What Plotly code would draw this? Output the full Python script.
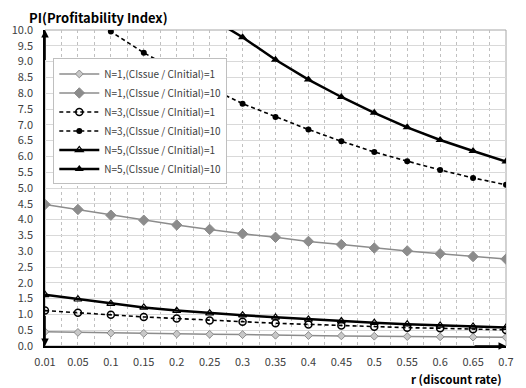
import plotly.graph_objects as go

x_labels = ["0.01", "0.05", "0.1", "0.15", "0.2", "0.25", "0.3", "0.35",
            "0.4", "0.45", "0.5", "0.55", "0.6", "0.65", "0.7"]

n1_r1 = [0.45, 0.43, 0.41, 0.40, 0.38, 0.37, 0.36, 0.34, 0.33, 0.32, 0.31, 0.30, 0.29, 0.28, 0.275]
n1_r10 = [4.48, 4.32, 4.14, 3.98, 3.83, 3.69, 3.55, 3.44, 3.31, 3.21, 3.10, 3.01, 2.92, 2.83, 2.75]
n3_r1 = [1.12, 1.05, 0.99, 0.92, 0.87, 0.81, 0.77, 0.72, 0.68, 0.65, 0.61, 0.58, 0.56, 0.53, 0.51]
n3_r10 = [11.3, 10.6, 9.95, 9.28, 8.70, 8.17, 7.67, 7.25, 6.85, 6.48, 6.14, 5.85, 5.57, 5.32, 5.10]
n5_r1 = [1.62, 1.48, 1.34, 1.22, 1.12, 1.04, 0.977, 0.906, 0.843, 0.788, 0.738, 0.692, 0.652, 0.617, 0.584]
n5_r10 = [16.2, 14.8, 13.4, 12.2, 11.2, 10.4, 9.77, 9.06, 8.43, 7.88, 7.38, 6.92, 6.52, 6.17, 5.84]

names = ["N=1,(CIssue / CInitial)=1", "N=1,(CIssue / CInitial)=10",
         "N=3,(CIssue / CInitial)=1", "N=3,(CIssue / CInitial)=10",
         "N=5,(CIssue / CInitial)=1", "N=5,(CIssue / CInitial)=10"]

xi = list(range(len(x_labels)))
FONT = "Noto Sans CJK KR"
GRAY = "#8c8c8c"
DASH = "4px,3px"

fig = go.Figure()
styles = [
    (n1_r1, dict(color=GRAY, width=1.5), dict(symbol="diamond", size=6, color="#c8c8c8", line=dict(color=GRAY, width=1))),
    (n1_r10, dict(color=GRAY, width=1.5), dict(symbol="diamond", size=8, color=GRAY, line=dict(color=GRAY, width=1))),
    (n3_r1, dict(color="black", width=1.6, dash=DASH), dict(symbol="circle-open", size=7, color="black", line=dict(color="black", width=1.5))),
    (n3_r10, dict(color="black", width=1.6, dash=DASH), dict(symbol="circle", size=6, color="black")),
    (n5_r1, dict(color="black", width=2.5), dict(symbol="triangle-up-open", size=7, color="black", line=dict(color="black", width=1.2))),
    (n5_r10, dict(color="black", width=2.5), dict(symbol="triangle-up", size=8, color="black")),
]
for (vals, ln, mk), nm in zip(styles, names):
    fig.add_trace(go.Scatter(x=xi, y=vals, mode="lines+markers", name=nm,
                             line=ln, marker=mk, cliponaxis=True))

fig.update_layout(
    width=526, height=388,
    margin=dict(l=41, r=15, t=30, b=42),
    paper_bgcolor="white", plot_bgcolor="white",
    font=dict(family=FONT, size=11, color="#404040"),
    showlegend=True,
    legend=dict(x=0.018, y=0.91, xanchor="left", yanchor="top",
                bgcolor="white", bordercolor="#bfbfbf", borderwidth=1,
                font=dict(family=FONT, size=10, color="#404040"),
                itemwidth=40),
    xaxis=dict(range=[0, 14], tickmode="array", tickvals=xi, ticktext=x_labels,
               showgrid=True, gridcolor="#c0c0c0", griddash="dot", gridwidth=1,
               minor=dict(dtick=0.5, tick0=0, showgrid=True, gridcolor="#c0c0c0", griddash="dot", gridwidth=1),
               showline=True, linecolor="black", linewidth=1.5, ticks="",
               ticklabelstandoff=5,
               zeroline=False, tickfont=dict(size=11, color="#404040")),
    yaxis=dict(range=[0, 10], dtick=0.5, tickformat=".1f",
               showgrid=True, gridcolor="#d9d9d9", gridwidth=1,
               showline=True, linecolor="black", linewidth=1.5, ticks="",
               ticklabelstandoff=8,
               zeroline=False, tickfont=dict(size=11, color="#404040")),
)

fig.add_shape(type="rect", xref="paper", yref="paper", x0=0, y0=0, x1=1, y1=1,
              line=dict(color="#a6a6a6", width=1), layer="below")

# axis arrows
fig.add_annotation(x=0, y=10, ax=0, ay=9.0, xref="x", yref="y", axref="x", ayref="y",
                   showarrow=True, arrowhead=2, arrowsize=1, arrowwidth=1.5, arrowcolor="black", text="")
fig.add_annotation(x=0, y=0, ax=0, ay=1.0, xref="x", yref="y", axref="x", ayref="y",
                   showarrow=True, arrowhead=2, arrowsize=1, arrowwidth=1.5, arrowcolor="black", text="")
fig.add_annotation(x=14, y=0, ax=13, ay=0, xref="x", yref="y", axref="x", ayref="y",
                   showarrow=True, arrowhead=2, arrowsize=1, arrowwidth=1.5, arrowcolor="black", text="")

fig.add_annotation(text="<b>PI(Profitability Index)</b>", xref="paper", yref="paper",
                   x=-0.04, y=1.0, xanchor="left", yanchor="middle", yshift=13, showarrow=False,
                   font=dict(family=FONT, size=13, color="black"))
fig.add_annotation(text="<b>r (discount rate)</b>", xref="paper", yref="paper",
                   x=0.995, y=-0.103, xanchor="right", yanchor="middle", showarrow=False,
                   font=dict(family=FONT, size=11.5, color="black"))

fig.write_html("out.html")
